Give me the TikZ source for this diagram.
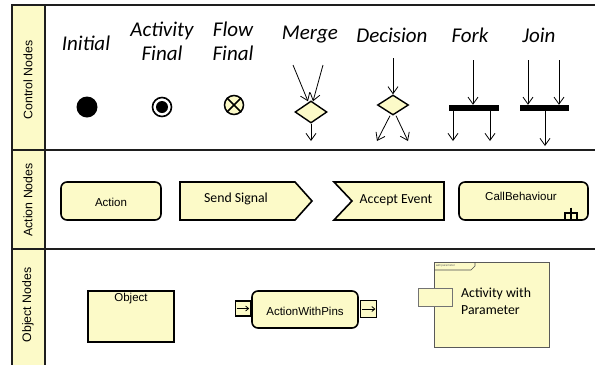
\documentclass[tikz,border=0pt]{standalone}
\usepackage{fontspec}
\setmainfont{Carlito}
\newfontfamily\tah{Liberation Sans}
\usetikzlibrary{arrows.meta,shapes.geometric}
\definecolor{ylw}{RGB}{252,250,200}
\definecolor{frm}{RGB}{30,30,30}
\begin{document}
\begin{tikzpicture}[x=1pt,y=-1pt,
  title/.style={font=\fontsize{21}{22}\selectfont\itshape, align=center, inner sep=0},
  arr/.style={line width=0.8pt, -{Straight Barb[length=7pt,width=10pt]}},
  shp/.style={draw=black, line width=1.6pt, fill=ylw},
  tx/.style={font=\tah\fontsize{11.5}{13}\selectfont, inner sep=0},
  cx/.style={font=\fontsize{13.8}{16}\selectfont, inner sep=0},
  lane/.style={font=\tah\fontsize{12.3}{13}\selectfont, rotate=90, inner sep=0},
  bar/.style={fill=black, draw=none, minimum width=50pt, minimum height=6pt, inner sep=0},
  dia/.style={diamond, draw=black, line width=1.4pt, fill=ylw, inner sep=0}]
\useasboundingbox (0,0) rectangle (595,365);
% frame
\fill[ylw] (12,5) rectangle (45,365);
\draw[frm, line width=2pt] (595,5) -- (12,5) -- (12,365);
\draw[frm, line width=2pt] (45,5) -- (45,365);
\draw[frm, line width=2pt] (12,150) -- (595,150);
\draw[frm, line width=2pt] (12,249) -- (595,249);
\node[lane] (lc) at (28,80) {Control Nodes};
\node[lane] (la) at (28,200) {Action Nodes};
\node[lane] (lo) at (28,305) {Object Nodes};
% control nodes titles
\node[title] (tInit) at (86,43) {Initial};
\node[title] (tAF) at (162,41) {Activity\\[2pt]Final};
\node[title] (tFF) at (233,41) {Flow\\[2pt]Final};
\node[title] (tMerge) at (310,35) {Merge};
\node[title] (tDec) at (392,35) {Decision};
\node[title] (tFork) at (470,35) {Fork};
\node[title] (tJoin) at (539,35) {Join};
% initial
\node[circle, fill=black, minimum size=21pt, inner sep=0] (init) at (87,107) {};
% activity final
\node[circle, draw=black, line width=1.6pt, fill=white, minimum size=19pt, inner sep=0] (af) at (162,107) {};
\node[circle, fill=black, minimum size=12pt, inner sep=0] (afin) at (162,107) {};
% flow final
\node[circle, draw=black, line width=1.5pt, fill=ylw, minimum size=19pt, inner sep=0] (ff) at (234,105) {};
\draw[line width=1.5pt] (ff.north west) -- (ff.south east) (ff.north east) -- (ff.south west);
% merge
\node[dia, minimum width=32pt, minimum height=22pt] (merge) at (311,112) {};
\coordinate (mi1) at (293,65);
\coordinate (mi2) at (323,65);
\coordinate (mo) at (311,141);
\draw[arr] (mi1) -- ([xshift=-3pt,yshift=-1pt]merge.north);
\draw[arr] (mi2) -- ([xshift=2pt,yshift=-1pt]merge.north);
\draw[arr] (merge.south) -- (mo);
% decision
\node[dia, minimum width=31pt, minimum height=20pt] (dec) at (393,105) {};
\coordinate (di) at (393,58);
\coordinate (do1) at (377,141);
\coordinate (do2) at (408,141);
\draw[arr] (di) -- (dec.north);
\draw[arr] ([xshift=-3pt]dec.south) -- (do1);
\draw[arr] ([xshift=3pt]dec.south) -- (do2);
% fork
\node[bar] (fork) at (474,108) {};
\coordinate (fi) at (473,60);
\coordinate (fo1) at (453,141);
\coordinate (fo2) at (490,141);
\draw[arr] (fi) -- (fi |- fork.north);
\draw[arr] (fo1 |- fork.south) -- (fo1);
\draw[arr] (fo2 |- fork.south) -- (fo2);
% join
\node[bar, minimum width=49pt] (join) at (544.5,108) {};
\coordinate (ji1) at (528,60);
\coordinate (ji2) at (559,60);
\coordinate (jo) at (545,146);
\draw[arr] (ji1) -- (ji1 |- join.north);
\draw[arr] (ji2) -- (ji2 |- join.north);
\draw[arr] (jo |- join.south) -- (jo);
% action nodes
\node[shp, rounded corners=6pt, minimum width=100pt, minimum height=38pt, inner sep=0] (action) at (111,201) {};
\node[tx] (actionT) at (111,202) {Action};
\draw[shp] (180,182) -- (295,182) -- (312,201) -- (295,220) -- (180,220) -- cycle;
\node[cx] (send) at (236,199) {Send Signal};
\draw[shp] (334,182) -- (444,182) -- (444,220) -- (334,220) -- (352,201) -- cycle;
\node[cx] (accept) at (396,200) {Accept Event};
\node[shp, rounded corners=6pt, minimum width=129pt, minimum height=38pt, inner sep=0] (call) at (523.5,201) {};
\node[tx] (callT) at (521,196) {CallBehaviour};
\draw[line width=1.6pt] (565,219) -- (565,213) -- (577,213) -- (577,219) (571,207.5) -- (571,219);
% object nodes
\node[shp, minimum width=86pt, minimum height=51pt, inner sep=0] (obj) at (131,316.5) {};
\node[tx] (objT) at (131,299) {Object};
\node[shp, rounded corners=6pt, minimum width=106pt, minimum height=37pt, inner sep=0] (awp) at (305,309.5) {};
\node[tx] (awpT) at (305,311) {ActionWithPins};
\node[shp, minimum width=15pt, minimum height=15pt, inner sep=0, anchor=east] (pinL) at (awp.west |- 0,308.5) {};
\draw[line width=0.8pt, -{Straight Barb[length=3pt,width=5pt]}] ([xshift=2pt]pinL.west) -- ([xshift=-2pt]pinL.east);
\node[shp, minimum width=16pt, minimum height=17pt, inner sep=0, anchor=west] (pinR) at ([xshift=1pt]awp.east |- 0,309) {};
\draw[line width=0.8pt, -{Straight Barb[length=3pt,width=5pt]}] ([xshift=2pt]pinR.west) -- ([xshift=-2pt]pinR.east);
% activity with parameter
\node[draw=black!65, line width=0.8pt, fill=ylw, minimum width=115pt, minimum height=85pt, inner sep=0] (act) at (491.5,304.5) {};
\draw[black!70, line width=0.6pt] (434,270) -- (471,270) -- (475,266) -- (475,262);
\node[font=\tah\fontsize{3}{3}\selectfont, text=black!60, anchor=west, inner sep=0] (actT) at (436,266) {\textbf{act} parameter};
\node[draw=black!55, line width=0.8pt, fill=ylw, minimum width=34pt, minimum height=18pt, inner sep=0] (param) at (435,297) {};
\node[cx, align=left, anchor=north west] (actLbl) at (461,288) {Activity with\\[1pt]Parameter};
\end{tikzpicture}
\end{document}
